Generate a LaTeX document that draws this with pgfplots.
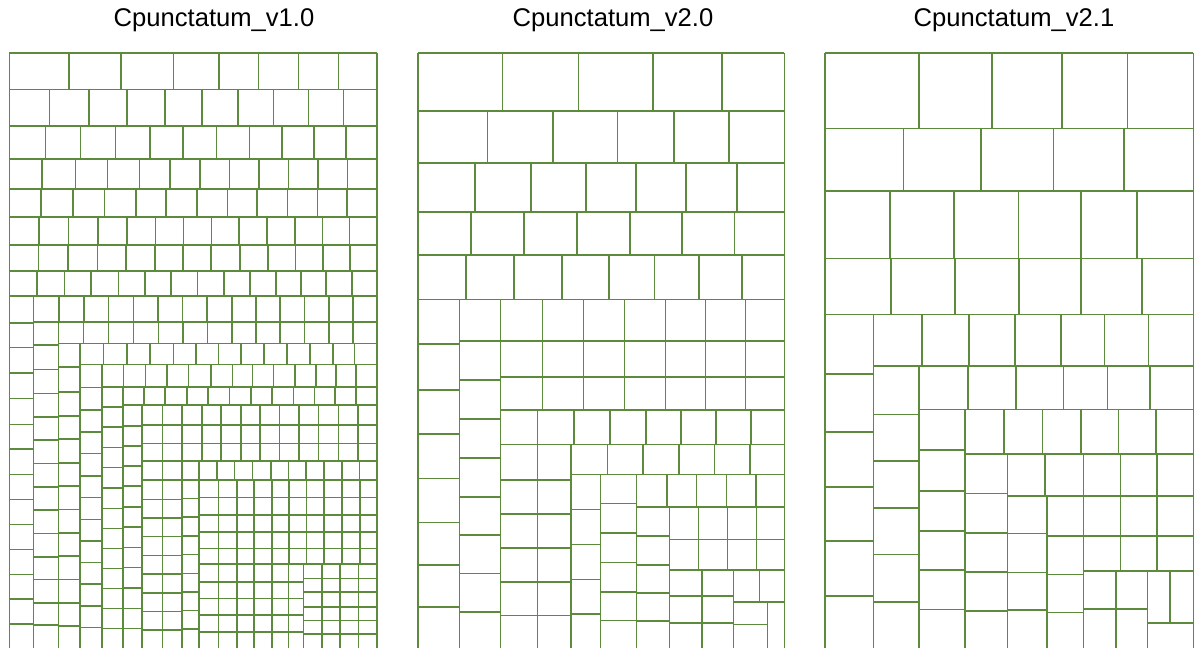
\documentclass[border=0pt]{standalone}
\usepackage{fontspec}
\setmainfont{Liberation Sans}
\usepackage{pgfplots}
\pgfplotsset{compat=1.18}
\definecolor{tm}{RGB}{94,138,60}
\begin{document}
\begin{tikzpicture}
\begin{axis}[width=600pt,height=324pt,scale only axis,
  xmin=0,xmax=1200,ymin=0,ymax=648,y dir=reverse,hide axis,clip=false,
  vseg/.style={draw=tm,line width=0.8pt,quiver={u=0,v=\thisrow{y2}-\thisrow{y1}}},
  hseg/.style={draw=tm,line width=0.8pt,quiver={u=\thisrow{x2}-\thisrow{x1},v=0}}]
% ---------------- Panel 1 ----------------
\addplot[vseg] table[x=x,y=y1,row sep=\\]{x y1 y2\\
9.3 52.7 648\\376.7 52.7 648\\
69 52.7 89.3\\121 52.7 89.3\\173.3 52.7 89.3\\219 52.7 89.3\\258.3 52.7 89.3\\298.3 52.7 89.3\\338.3 52.7 89.3\\
49.3 89.3 125.7\\89 89.3 125.7\\126.7 89.3 125.7\\164.7 89.3 125.7\\202 89.3 125.7\\238 89.3 125.7\\273.3 89.3 125.7\\308.3 89.3 125.7\\343.3 89.3 125.7\\
45.3 125.7 158.7\\80.3 125.7 158.7\\115.3 125.7 158.7\\149.7 125.7 158.7\\183 125.7 158.7\\216.3 125.7 158.7\\249.3 125.7 158.7\\281.7 125.7 158.7\\313.7 125.7 158.7\\345.7 125.7 158.7\\
42 158.7 188.7\\75.3 158.7 188.7\\107.3 158.7 188.7\\139.3 158.7 188.7\\170 158.7 188.7\\200 158.7 188.7\\229.3 158.7 188.7\\259 158.7 188.7\\288.3 158.7 188.7\\317.7 158.7 188.7\\347.3 158.7 188.7\\
40.7 188.7 216.7\\72.7 188.7 216.7\\104.3 188.7 216.7\\136 188.7 216.7\\166 188.7 216.7\\196.7 188.7 216.7\\227.3 188.7 216.7\\257 188.7 216.7\\287.3 188.7 216.7\\317.3 188.7 216.7\\347 188.7 216.7\\
38.7 216.7 244.7\\68.3 216.7 244.7\\97.7 216.7 244.7\\126.7 216.7 244.7\\155.3 216.7 244.7\\183.3 216.7 244.7\\211.3 216.7 244.7\\239 216.7 244.7\\266.7 216.7 244.7\\294.7 216.7 244.7\\322.3 216.7 244.7\\349.3 216.7 244.7\\
38.3 244.7 270.7\\68 244.7 270.7\\97.3 244.7 270.7\\125.7 244.7 270.7\\154.7 244.7 270.7\\182.7 244.7 270.7\\211 244.7 270.7\\239.7 244.7 270.7\\267.7 244.7 270.7\\295.3 244.7 270.7\\322.7 244.7 270.7\\350 244.7 270.7\\
36.7 270.7 296\\64.3 270.7 296\\91 270.7 296\\118.3 270.7 296\\144.7 270.7 296\\171 270.7 296\\197.3 270.7 296\\223.7 270.7 296\\249.7 270.7 296\\275.7 270.7 296\\300.7 270.7 296\\326 270.7 296\\351.7 270.7 296\\
33.3 296 648\\58.3 321.7 648\\80 343.3 648\\101.7 364.3 648\\122.7 386.7 648\\141.7 405 648\\162.3 405 648\\181.7 405 648\\199 460.7 648\\303.3 564 648\\
59 296 321.7\\84 296 321.7\\108.3 296 321.7\\133.3 296 321.7\\157.7 296 321.7\\182.3 296 321.7\\206.7 296 321.7\\231.7 296 321.7\\256 296 321.7\\280 296 321.7\\304.3 296 321.7\\328.7 296 321.7\\352.7 296 321.7\\
83.3 321.7 343.3\\108.3 321.7 343.3\\133.3 321.7 343.3\\158.3 321.7 343.3\\182.7 321.7 343.3\\207.3 321.7 343.3\\231.7 321.7 343.3\\256 321.7 343.3\\280 321.7 343.3\\304.3 321.7 343.3\\328.7 321.7 343.3\\352.7 321.7 343.3\\
103.3 343.3 364.3\\126.7 343.3 364.3\\150 343.3 364.3\\173.3 343.3 364.3\\196 343.3 364.3\\218.3 343.3 364.3\\241 343.3 364.3\\264 343.3 364.3\\286.7 343.3 364.3\\310 343.3 364.3\\332.7 343.3 364.3\\354.3 343.3 364.3\\
123.3 364.3 386.7\\145.3 364.3 386.7\\166.7 364.3 386.7\\188.3 364.3 386.7\\210.7 364.3 386.7\\232.3 364.3 386.7\\252.3 364.3 386.7\\273.3 364.3 386.7\\294.7 364.3 386.7\\315.7 364.3 386.7\\336 364.3 386.7\\356 364.3 386.7\\
144 386.7 405\\165 386.7 405\\186.7 386.7 405\\207.7 386.7 405\\229.3 386.7 405\\250.7 386.7 405\\271.7 386.7 405\\293.3 386.7 405\\314.3 386.7 405\\335 386.7 405\\356 386.7 405\\
201.7 405 460.7\\221 405 460.7\\240.7 405 460.7\\260 405 460.7\\279.3 405 460.7\\299 405 460.7\\318.3 405 460.7\\338.3 405 460.7\\357.7 405 460.7\\
216.7 460.7 480\\234.3 460.7 480\\252.5 460.7 480\\270.7 460.7 480\\288.3 460.7 480\\306 460.7 480\\324 460.7 480\\341.7 460.7 480\\359.3 460.7 480\\
218.3 480 648\\236.7 480 648\\254 480 648\\271.7 480 648\\289 480 564\\306.5 480 564\\324 480 564\\341.7 480 564\\359.7 480 564\\
288.3 564 648\\321.7 564 648\\340 564 648\\358.3 564 648\\
};
\addplot[hseg] table[x=x1,y=y,row sep=\\]{x1 x2 y\\
9.3 376.7 52.7\\9.3 376.7 89.3\\9.3 376.7 125.7\\9.3 376.7 158.7\\9.3 376.7 188.7\\9.3 376.7 216.7\\9.3 376.7 244.7\\9.3 376.7 270.7\\9.3 376.7 296\\
9.3 33.3 322.7\\9.3 33.3 347.3\\9.3 33.3 372.7\\9.3 33.3 398.3\\9.3 33.3 424.3\\9.3 33.3 449\\9.3 33.3 474.3\\9.3 33.3 499.3\\9.3 33.3 524.3\\9.3 33.3 549.3\\9.3 33.3 574.3\\9.3 33.3 599\\9.3 33.3 624\\
33.3 376.7 321.7\\
33.3 58.3 345\\33.3 58.3 369.3\\33.3 58.3 393.3\\33.3 58.3 416.7\\33.3 58.3 440\\33.3 58.3 463.3\\33.3 58.3 486.7\\33.3 58.3 510\\33.3 58.3 533.3\\33.3 58.3 556.7\\33.3 58.3 579.3\\33.3 58.3 602.7\\33.3 58.3 625\\
58.3 376.7 343.3\\
58.3 80 366.7\\58.3 80 391.7\\58.3 80 415.7\\58.3 80 439\\58.3 80 462.7\\58.3 80 486\\58.3 80 509.3\\58.3 80 532.7\\58.3 80 556\\58.3 80 579.3\\58.3 80 602.7\\58.3 80 626\\
80 376.7 364.3\\
80 101.7 387.3\\80 101.7 410\\80 101.7 431.7\\80 101.7 453.3\\80 101.7 475.7\\80 101.7 497.3\\80 101.7 519.3\\80 101.7 540.7\\80 101.7 562.3\\80 101.7 584\\80 101.7 606\\80 101.7 627.3\\
101.7 376.7 386.7\\
101.7 122.7 406.7\\101.7 122.7 426.7\\101.7 122.7 447.3\\101.7 122.7 467.3\\101.7 122.7 487.7\\101.7 122.7 508.3\\101.7 122.7 528.3\\101.7 122.7 548.3\\101.7 122.7 568.3\\101.7 122.7 588.3\\101.7 122.7 608.3\\101.7 122.7 628.3\\
122.7 376.7 405\\
122.7 141.7 425.7\\122.7 141.7 446\\122.7 141.7 466\\122.7 141.7 486\\122.7 141.7 506.7\\122.7 141.7 526.7\\122.7 141.7 547.3\\122.7 141.7 567.3\\122.7 141.7 587.7\\122.7 141.7 608.3\\122.7 141.7 628.3\\
141.7 376.7 425\\141.7 376.7 443.3\\141.7 376.7 460.7\\141.7 376.7 480\\
141.7 181.7 499.3\\141.7 181.7 518\\141.7 181.7 536.3\\141.7 181.7 555.3\\141.7 181.7 574\\141.7 181.7 592.7\\141.7 181.7 611.3\\141.7 181.7 630\\
181.7 199 498.3\\181.7 199 516.7\\181.7 199 536\\181.7 199 554.3\\181.7 199 573.3\\181.7 199 591.7\\181.7 199 610.3\\181.7 199 629\\
199 376.7 497.3\\199 376.7 515\\199 376.7 531.7\\199 376.7 548.3\\199 376.7 564\\
199 303.3 581.7\\199 303.3 598.3\\199 303.3 615\\199 303.3 631.7\\
303.3 376.7 578.3\\303.3 376.7 592\\303.3 376.7 606.7\\303.3 376.7 620.3\\303.3 376.7 634\\
};
% ---------------- Panel 2 ----------------
\addplot[vseg] table[x=x,y=y1,row sep=\\]{x y1 y2\\
417.7 52.7 648\\784.3 52.7 648\\
502.3 52.7 110.7\\578.3 52.7 110.7\\652.7 52.7 110.7\\721.7 52.7 110.7\\
487.3 110.7 162.7\\552.7 110.7 162.7\\617.3 110.7 162.7\\673.7 110.7 162.7\\729 110.7 162.7\\
475 162.7 211.7\\530.7 162.7 211.7\\586 162.7 211.7\\636 162.7 211.7\\686 162.7 211.7\\736.7 162.7 211.7\\
470.7 211.7 255\\524 211.7 255\\576.7 211.7 255\\630 211.7 255\\682 211.7 255\\734.3 211.7 255\\
465.7 255 299.3\\514 255 299.3\\562 255 299.3\\609 255 299.3\\654.3 255 299.3\\699 255 299.3\\741.7 255 299.3\\
459.3 299.3 648\\500.5 299.3 648\\537.3 410 648\\570.7 444.3 648\\600.5 474.5 648\\636.3 474.5 648\\669.3 506.7 648\\702 570 648\\733.3 570 648\\759.3 570 601.7\\767.3 601.7 648\\
542.5 299.3 410\\583.5 299.3 410\\624.5 299.3 410\\665.3 299.3 410\\705.3 299.3 410\\745.3 299.3 410\\
574 410 444.3\\610 410 444.3\\645.7 410 444.3\\681 410 444.3\\716 410 444.3\\751 410 444.3\\
607.5 444.3 474.5\\643 444.3 474.5\\679 444.3 474.5\\714.5 444.3 474.5\\750 444.3 474.5\\
666.7 474.5 506.7\\696.5 474.5 506.7\\726.5 474.5 506.7\\756 474.5 506.7\\
698.5 506.7 570\\727.3 506.7 570\\756.3 506.7 570\\
};
\addplot[hseg] table[x=x1,y=y,row sep=\\]{x1 x2 y\\
417.7 784.3 52.7\\417.7 784.3 110.7\\417.7 784.3 162.7\\417.7 784.3 211.7\\417.7 784.3 255\\417.7 784.3 299.3\\
417.7 459.3 344\\417.7 459.3 390\\417.7 459.3 434\\417.7 459.3 478.3\\417.7 459.3 522.3\\417.7 459.3 565\\417.7 459.3 606.7\\
459.3 784.3 340.7\\
459.3 500.5 380\\459.3 500.5 419\\459.3 500.5 457.7\\459.3 500.5 496.7\\459.3 500.5 535\\459.3 500.5 573.3\\459.3 500.5 611.7\\
500.5 784.3 376.7\\500.5 784.3 410\\500.5 784.3 444.3\\
500.5 570.7 480\\500.5 570.7 514\\500.5 570.7 548\\500.5 570.7 582\\500.5 570.7 615.3\\
570.7 784.3 474.5\\
570.7 600.5 509.3\\570.7 600.5 544.3\\570.7 600.5 579.3\\570.7 600.5 614\\
600.5 636.3 503.3\\600.5 636.3 532.7\\600.5 636.3 562.3\\600.5 636.3 591.7\\600.5 636.3 620.5\\
636.3 784.3 506.7\\
636.3 669.3 536\\636.3 669.3 565\\636.3 669.3 592.7\\636.3 669.3 621\\
669.3 784.3 539.3\\669.3 784.3 570\\
669.3 733.3 595.7\\669.3 733.3 622.7\\
733.3 784.3 601.7\\733.3 767.3 624.3\\
};
% ---------------- Panel 3 ----------------
\addplot[vseg] table[x=x,y=y1,row sep=\\]{x y1 y2\\
825 52.7 648\\1193.3 52.7 648\\
919 52.7 128.3\\991.7 52.7 128.3\\1062 52.7 128.3\\1127.3 52.7 128.3\\
903.3 128.3 191\\980.7 128.3 191\\1053.3 128.3 191\\1123.7 128.3 191\\
890 191 258.3\\954 191 258.3\\1018.3 191 258.3\\1080.7 191 258.3\\1137 191 258.3\\
890.7 258.3 314.3\\955 258.3 314.3\\1019 258.3 314.3\\1081 258.3 314.3\\1141.7 258.3 314.3\\
873.3 314.3 648\\919 365.7 648\\964.7 409.3 648\\1007.3 454 648\\1046.7 495.7 648\\1083.5 454 648\\1115.7 570.7 648\\1147.3 570.7 648\\1170 570.7 622.7\\
921.7 314.3 365.7\\969 314.3 365.7\\1015 314.3 365.7\\1060.7 314.3 365.7\\1104.3 314.3 365.7\\1148.3 314.3 365.7\\
967.7 365.7 409.3\\1016 365.7 409.3\\1063.3 365.7 409.3\\1107.3 365.7 409.3\\1150 365.7 409.3\\
1004 409.3 454\\1042.3 409.3 454\\1080.7 409.3 454\\1118.3 409.3 454\\1156 409.3 454\\
1045 454 495.7\\1120.3 454 570.7\\1157 454 570.7\\
};
\addplot[hseg] table[x=x1,y=y,row sep=\\]{x1 x2 y\\
825 1193.3 52.7\\825 1193.3 128.3\\825 1193.3 191\\825 1193.3 258.3\\825 1193.3 314.3\\
825 873.3 374\\825 873.3 431.7\\825 873.3 486.7\\825 873.3 541\\825 873.3 595.7\\
873.3 1193.3 365.7\\
873.3 919 414.3\\873.3 919 461\\873.3 919 507.7\\873.3 919 554.3\\873.3 919 601.7\\
919 1193.3 409.3\\
919 964.7 450\\919 964.7 490.7\\919 964.7 530.7\\919 964.7 570\\919 964.7 609.3\\
964.7 1193.3 454\\
964.7 1007.3 493.3\\964.7 1007.3 532.7\\964.7 1007.3 571.7\\964.7 1007.3 610.7\\
1007.3 1193.3 495.7\\
1007.3 1046.7 533.3\\1007.3 1046.7 572.3\\1007.3 1046.7 610\\
1046.7 1193.3 536\\
1046.7 1083.5 574.3\\1046.7 1083.5 612.3\\
1083.5 1193.3 570.7\\
1083.5 1147.3 609\\1147.3 1193.3 622.7\\
};
\node[font=\fontsize{12.8}{15}\selectfont] at (axis cs:214,20.5) {Cpunctatum\_v1.0};
\node[font=\fontsize{12.8}{15}\selectfont] at (axis cs:613,20.5) {Cpunctatum\_v2.0};
\node[font=\fontsize{12.8}{15}\selectfont] at (axis cs:1014,20.5) {Cpunctatum\_v2.1};
\end{axis}
\pgfresetboundingbox
\path[use as bounding box] (current axis.south west) rectangle (current axis.north east);
\end{tikzpicture}
\end{document}
